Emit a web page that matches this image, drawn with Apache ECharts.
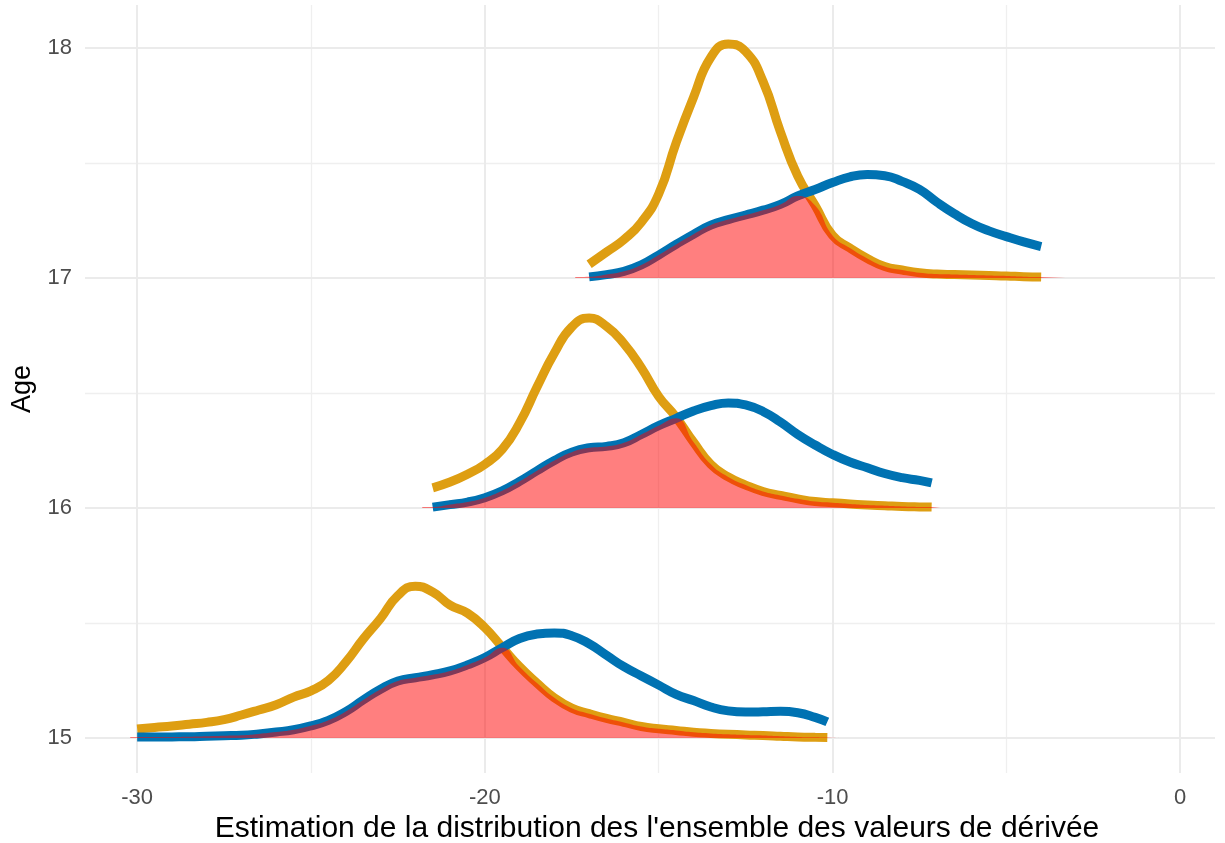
<!DOCTYPE html>
<html>
<head>
<meta charset="utf-8">
<title>Distribution des dérivées par âge</title>
<script src="https://cdn.jsdelivr.net/npm/echarts@6/dist/echarts.min.js"></script>
<style>
  html, body { margin: 0; padding: 0; background: #fff; }
  #chart { width: 1225px; height: 843px; }
</style>
</head>
<body>
<div id="chart"></div>
<script>
// ---- data ----
const ages = [15, 16, 17];
const xTicks = [-30, -20, -10, 0];
const xMinorTicks = [-25, -15, -5];
const yTicks = [15, 16, 17, 18];
const yMinorTicks = [15.5, 16.5, 17.5];

// Age 15 (heights above the baseline, in age units)
const x15 = [-30, -29.5, -29, -28.5, -28, -27.5, -27, -26.5, -26, -25.5, -25, -24.5, -24, -23.5, -23, -22.5, -22, -21.5, -21, -20.5,
  -20, -19.5, -19, -18.5, -18, -17.5, -17, -16.5, -16, -15.5, -15, -14.5, -14, -13.5, -13, -12.5, -12, -11.5, -11, -10.5, -10.15];
const yellow15 = [0.039, 0.046, 0.052, 0.06, 0.068, 0.08, 0.1, 0.122, 0.145, 0.178, 0.205, 0.25, 0.33, 0.43, 0.52, 0.62, 0.66, 0.635, 0.578, 0.543,
  0.48, 0.395, 0.31, 0.239, 0.175, 0.13, 0.106, 0.085, 0.068, 0.05, 0.04, 0.033, 0.025, 0.02, 0.016, 0.013, 0.011, 0.008, 0.005, 0.003, 0.002];
const blue15 = [0.004, 0.004, 0.005, 0.006, 0.008, 0.01, 0.012, 0.018, 0.026, 0.036, 0.053, 0.077, 0.115, 0.165, 0.212, 0.248, 0.262, 0.275, 0.292, 0.318,
  0.35, 0.393, 0.433, 0.452, 0.457, 0.445, 0.41, 0.36, 0.31, 0.27, 0.23, 0.19, 0.163, 0.135, 0.118, 0.113, 0.114, 0.116, 0.11, 0.09, 0.07];

// Age 16
const x16 = [-21.5, -21, -20.5, -20, -19.5, -19, -18.5, -18, -17.5, -17, -16.5, -16, -15.5, -15, -14.5,
  -14, -13.5, -13, -12.5, -12, -11.5, -11, -10.5, -10, -9.5, -9, -8.5, -8, -7.5, -7.15];
const yellow16 = [0.088, 0.113, 0.147, 0.19, 0.255, 0.37, 0.526, 0.674, 0.787, 0.826, 0.79, 0.715, 0.61, 0.485, 0.395,
  0.287, 0.19, 0.135, 0.1, 0.072, 0.055, 0.04, 0.028, 0.023, 0.018, 0.013, 0.01, 0.007, 0.005, 0.004];
const blue16 = [0.004, 0.015, 0.026, 0.045, 0.075, 0.116, 0.162, 0.207, 0.243, 0.262, 0.268, 0.284, 0.32, 0.358, 0.39,
  0.422, 0.445, 0.457, 0.448, 0.42, 0.374, 0.32, 0.274, 0.233, 0.2, 0.175, 0.15, 0.132, 0.12, 0.109];

// Age 17
const x17 = [-17, -16.5, -16, -15.5, -15, -14.5, -14, -13.5, -13, -12.5, -12, -11.5, -11, -10.5,
  -10, -9.5, -9, -8.5, -8, -7.5, -7, -6.5, -6, -5.5, -5, -4.5, -4];
const yellow17 = [0.06, 0.113, 0.167, 0.242, 0.365, 0.587, 0.785, 0.96, 1.017, 0.985, 0.855, 0.636, 0.443, 0.315,
  0.185, 0.13, 0.085, 0.05, 0.035, 0.023, 0.017, 0.015, 0.013, 0.011, 0.009, 0.006, 0.004];
const blue17 = [0.005, 0.015, 0.029, 0.057, 0.1, 0.146, 0.19, 0.23, 0.254, 0.274, 0.295, 0.32, 0.357, 0.385,
  0.415, 0.44, 0.45, 0.445, 0.42, 0.385, 0.33, 0.28, 0.237, 0.205, 0.18, 0.157, 0.137];

// the overlap fill runs a little past the curves along the baseline
const fillStart = [-30.2, -21.8, -17.4];
const fillEnd = [-9.8, -6.9, -3.3];

// ---- chart ----
const YELLOW = '#DE9E12';
const BLUE = '#0072B2';
const FONT = '"Liberation Sans", Arial, sans-serif';

const groups = [
  { x: x15, yellow: yellow15, blue: blue15 },
  { x: x16, yellow: yellow16, blue: blue16 },
  { x: x17, yellow: yellow17, blue: blue17 }
];

const majorGrid = { color: '#EBEBEB', width: 2, type: 'solid' };
const minorGrid = { color: '#EFEFEF', width: 1.3, type: 'solid' };

const series = [];

// grid lines (drawn as mark lines so the axis range can stay free)
series.push({
  type: 'line',
  data: [],
  silent: true,
  z: 0,
  markLine: {
    z: 0,
    silent: true,
    animation: false,
    symbol: ['none', 'none'],
    label: { show: false },
    emphasis: { disabled: true },
    data: [
      ...xMinorTicks.map(v => ({ xAxis: v, lineStyle: minorGrid })),
      ...yMinorTicks.map(v => ({ yAxis: v, lineStyle: minorGrid })),
      ...xTicks.map(v => ({ xAxis: v, lineStyle: majorGrid })),
      ...yTicks.map(v => ({ yAxis: v, lineStyle: majorGrid }))
    ]
  }
});

groups.forEach((g, i) => {
  const base = ages[i];
  const common = {
    type: 'line',
    showSymbol: false,
    symbol: 'none',
    smooth: 0.5,
    silent: true,
    emphasis: { disabled: true }
  };
  series.push({
    ...common,
    name: 'yellow' + base,
    z: 2,
    data: g.x.map((x, k) => [x, base + g.yellow[k]]),
    lineStyle: { color: YELLOW, width: 9, cap: 'butt' }
  });
  series.push({
    ...common,
    name: 'blue' + base,
    z: 3,
    data: g.x.map((x, k) => [x, base + g.blue[k]]),
    lineStyle: { color: BLUE, width: 9, cap: 'butt' }
  });
  // overlap area = lower of the two curves
  const overlap = g.x.map((x, k) => [x, base + Math.min(g.yellow[k], g.blue[k])]);
  overlap.unshift([fillStart[i], base + 0.004]);
  overlap.push([fillEnd[i], base + 0.004]);
  series.push({
    ...common,
    name: 'overlap' + base,
    z: 4,
    data: overlap,
    lineStyle: { width: 0, opacity: 0 },
    areaStyle: { color: '#FF0000', opacity: 0.5, origin: base }
  });
});

const myChart = echarts.init(document.getElementById('chart'));
myChart.setOption({
  animation: false,
  backgroundColor: '#FFFFFF',
  grid: { left: 85, right: 10, top: 5, bottom: 70, containLabel: false, outerBoundsMode: 'none' },
  xAxis: {
    type: 'value',
    min: -31.5,
    max: 1,
    axisLine: { show: false },
    axisTick: { show: false },
    splitLine: { show: false },
    axisLabel: {
      customValues: xTicks,
      color: '#4D4D4D',
      fontSize: 22,
      fontFamily: FONT,
      margin: 14
    },
    name: "Estimation de la distribution des l'ensemble des valeurs de dérivée",
    nameLocation: 'middle',
    nameGap: 40,
    nameTextStyle: { color: '#000000', fontSize: 30, fontFamily: FONT, padding: [0, 0, 0, 14] }
  },
  yAxis: {
    type: 'value',
    min: 14.848,
    max: 18.187,
    axisLine: { show: false },
    axisTick: { show: false },
    splitLine: { show: false },
    axisLabel: {
      customValues: yTicks,
      color: '#4D4D4D',
      fontSize: 22,
      fontFamily: FONT,
      margin: 13
    },
    name: 'Age',
    nameLocation: 'middle',
    nameGap: 49,
    nameRotate: 90,
    nameTextStyle: { color: '#000000', fontSize: 27, fontFamily: FONT }
  },
  series: series
});

window.addEventListener('resize', () => {
  myChart.resize();
});
</script>
</body>
</html>
